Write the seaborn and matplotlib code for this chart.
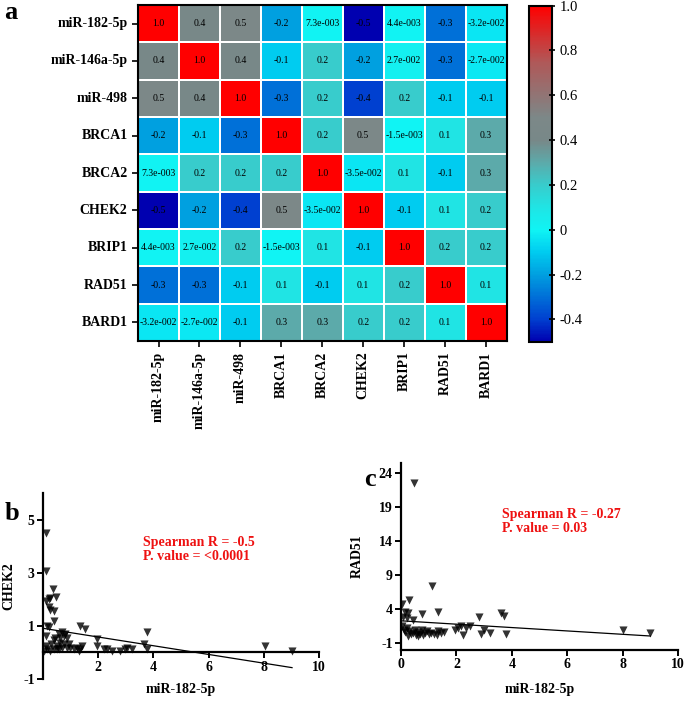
import numpy as np
import pandas as pd
import seaborn as sns
import matplotlib.pyplot as plt
from matplotlib.colors import LinearSegmentedColormap

# ---- data ----
genes = ['miR-182-5p', 'miR-146a-5p', 'miR-498', 'BRCA1', 'BRCA2',
         'CHEK2', 'BRIP1', 'RAD51', 'BARD1']

corr_rows = [
    [1.0, 0.4, 0.5, -0.2, 0.0073, -0.5, 0.0044, -0.3, -0.032],
    [0.4, 1.0, 0.4, -0.1, 0.2, -0.2, 0.027, -0.3, -0.027],
    [0.5, 0.4, 1.0, -0.3, 0.2, -0.4, 0.2, -0.1, -0.1],
    [-0.2, -0.1, -0.3, 1.0, 0.2, 0.5, -0.0015, 0.1, 0.3],
    [0.0073, 0.2, 0.2, 0.2, 1.0, -0.035, 0.1, -0.1, 0.3],
    [-0.5, -0.2, -0.4, 0.5, -0.035, 1.0, -0.1, 0.1, 0.2],
    [0.0044, 0.027, 0.2, -0.0015, 0.1, -0.1, 1.0, 0.2, 0.2],
    [-0.3, -0.3, -0.1, 0.1, -0.1, 0.1, 0.2, 1.0, 0.1],
    [-0.032, -0.027, -0.1, 0.3, 0.3, 0.2, 0.2, 0.1, 1.0],
]

cbar_ticks = [-0.4, -0.2, 0, 0.2, 0.4, 0.6, 0.8, 1.0]
cbar_ticklabels = ['-0.4', '-0.2', '0', '0.2', '0.4', '0.6', '0.8', '1.0']

mir182_b = [0.12, 0.12, 0.10, 0.20, 0.27, 0.35, 0.48, 0.20, 0.27, 0.41,
            0.41, 0.15, 0.20, 0.10, 0.10, 0.15, 0.05, 0.39, 0.45, 0.51,
            0.57, 0.63, 0.69, 0.75, 0.81, 0.87, 0.75, 0.69, 0.51, 0.39,
            0.27, 0.57, 0.87, 0.99, 1.11, 1.23, 1.35, 1.41, 0.30, 0.60,
            0.93, 1.30, 1.35, 1.53, 1.95, 1.97, 2.20, 2.31, 2.50, 2.80,
            2.98, 3.04, 3.22, 3.64, 3.76, 3.78, 8.04, 9.02]
chek2 = [4.50, 3.05, 1.95, 2.00, 2.05, 2.40, 2.10, 1.70, 1.60, 1.55,
         1.20, 1.00, 0.95, 0.63, 0.25, 0.12, 0.05, 0.45, 0.55, 0.25,
         0.70, 0.55, 0.75, 0.60, 0.70, 0.55, 0.30, 0.18, 0.12, 0.12,
         0.06, 0.12, 0.18, 0.18, 0.12, 0.18, 0.12, 0.25, 0.30, 0.35,
         0.30, 0.05, 1.00, 0.88, 0.50, 0.25, 0.12, 0.12, 0.06, 0.06,
         0.12, 0.18, 0.12, 0.30, 0.12, 0.76, 0.25, 0.06]

mir182_c = [0.47, 1.11, 0.30, 0.05, 0.14, 0.24, 0.75, 1.35, 0.45, 2.80,
            3.60, 3.72, 0.08, 0.20, 0.05, 0.10, 0.15, 0.20, 0.30, 0.35,
            0.42, 0.50, 0.55, 0.62, 0.70, 0.75, 0.80, 0.88, 0.95, 1.00,
            1.10, 1.20, 1.30, 1.35, 1.45, 1.55, 0.25, 0.60, 1.95, 2.05,
            2.15, 2.23, 2.35, 2.50, 2.90, 3.00, 3.20, 3.78, 8.00, 9.00]
rad51 = [22.5, 7.4, 5.4, 4.8, 3.65, 3.5, 3.3, 3.65, 2.4, 2.8,
         3.4, 3.0, 2.9, 2.7, 1.5, 1.0, 0.6, 1.2, 0.8, 0.3,
         0.5, 1.0, 0.2, 0.6, 0.4, 0.9, 0.2, 0.5, 0.8, 0.3,
         0.5, 0.4, 0.2, 0.8, 0.5, 0.6, 0.1, 0.1, 0.9, 1.3,
         1.5, 0.2, 1.3, 1.5, 0.4, 0.95, 0.5, 0.4, 0.95, 0.5]


def fmt_r(v):
    if v != 0 and abs(v) < 0.05:
        m, e = f"{v:.1e}".split('e')
        return f"{m}e{int(e):04d}"
    return f"{v:.1f}"


serif = ['Liberation Serif', 'DejaVu Serif']
plt.rcParams['font.family'] = serif
plt.rcParams['font.size'] = 10
plt.rcParams['axes.unicode_minus'] = False

corr = pd.DataFrame(corr_rows, index=genes, columns=genes)
labels = np.vectorize(fmt_r)(corr.values)

anchors = [(-0.5, '#0000B0'), (-0.4, '#0040D0'), (-0.3, '#0070D8'),
           (-0.2, '#00A0E0'), (-0.1, '#00CCF0'), (0.0, '#10F4F4'),
           (0.1, '#20E4E4'), (0.2, '#38CCCC'), (0.3, '#5CAAAA'),
           (0.4, '#788888'), (0.5, '#7C8888'), (0.75, '#B05858'),
           (1.0, '#FF0000')]
cmap = LinearSegmentedColormap.from_list(
    'prism', [((v + 0.5) / 1.5, c) for v, c in anchors])

fig = plt.figure(figsize=(6.85, 7.02), dpi=100)
ax = fig.add_axes([0.2015, 0.514, 0.538, 0.479])
cax = fig.add_axes([0.772, 0.513, 0.034, 0.479])

sns.heatmap(corr, ax=ax, cbar_ax=cax, cmap=cmap, vmin=-0.5, vmax=1.0,
            annot=labels, fmt='', linewidths=1.3, linecolor='white',
            annot_kws={'fontsize': 7, 'color': 'black'})
for sp in ax.spines.values():
    sp.set_visible(True)
    sp.set_linewidth(1.5)
ax.tick_params(length=4, width=1.2)
ax.set_yticklabels(genes, rotation=0, fontweight='bold', fontsize=10)
ax.set_xticklabels(genes, rotation=90, fontweight='bold', fontsize=10)

cbar = ax.collections[0].colorbar
cbar.set_ticks(cbar_ticks)
cbar.set_ticklabels(cbar_ticklabels)
cbar.ax.tick_params(labelsize=10.5, length=4, width=1.2, direction='inout')
cbar.outline.set_linewidth(1.5)

# ---- scatter panels ----
axb = fig.add_axes([0.0628, 0.0328, 0.403, 0.265])
axc = fig.add_axes([0.5854, 0.0741, 0.4044, 0.2664])

for a, x, y in [(axb, mir182_b, chek2), (axc, mir182_c, rad51)]:
    sns.regplot(x=x, y=y, ax=a, ci=None, marker='v',
                scatter_kws={'s': 34, 'color': 'black', 'linewidths': 0},
                line_kws={'color': 'black', 'linewidth': 0.9})
    sns.despine(ax=a)
    a.spines['left'].set_linewidth(1.6)
    a.spines['bottom'].set_linewidth(1.6)
    a.tick_params(length=4, width=1.4, labelsize=10, pad=2)
    a.set_xlabel('miR-182-5p', fontsize=10, fontweight='bold')

axb.set_xlim(0, 10)
axb.set_ylim(-1, 6)
axb.spines['bottom'].set_position(('data', 0))
axb.set_xticks([2, 4, 6, 8, 10])
axb.set_yticks([-1, 1, 3, 5])
for t in axb.get_xticklabels() + axb.get_yticklabels():
    t.set_fontweight('bold')
axb.set_ylabel('CHEK2', fontsize=10, fontweight='bold')
axb.yaxis.set_label_coords(-0.1, 0.5)
axb.xaxis.set_label_coords(0.5, -0.022)
axb.text(0.362, 0.77, 'Spearman R = -0.5\nP. value = <0.0001',
         transform=axb.transAxes, color='#EE1111', fontweight='bold',
         fontsize=10, va='top', linespacing=1.15)

axc.set_xlim(0, 10)
axc.set_ylim(-2, 25.5)
axc.set_xticks([0, 2, 4, 6, 8, 10])
axc.set_yticks([-1, 4, 9, 14, 19, 24])
for t in axc.get_xticklabels() + axc.get_yticklabels():
    t.set_fontweight('bold')
axc.set_ylabel('RAD51', fontsize=10, fontweight='bold')
axc.yaxis.set_label_coords(-0.135, 0.5)
axc.xaxis.set_label_coords(0.5, -0.176)
axc.text(0.365, 0.76, 'Spearman R = -0.27\nP. value = 0.03',
         transform=axc.transAxes, color='#EE1111', fontweight='bold',
         fontsize=10, va='top', linespacing=1.15)

fig.text(0.006, 0.998, 'a', fontsize=19, fontweight='bold', va='top')
fig.text(0.006, 0.285, 'b', fontsize=19, fontweight='bold', va='top')
fig.text(0.532, 0.334, 'c', fontsize=19, fontweight='bold', va='top')

fig.savefig('out.png', dpi=100)
